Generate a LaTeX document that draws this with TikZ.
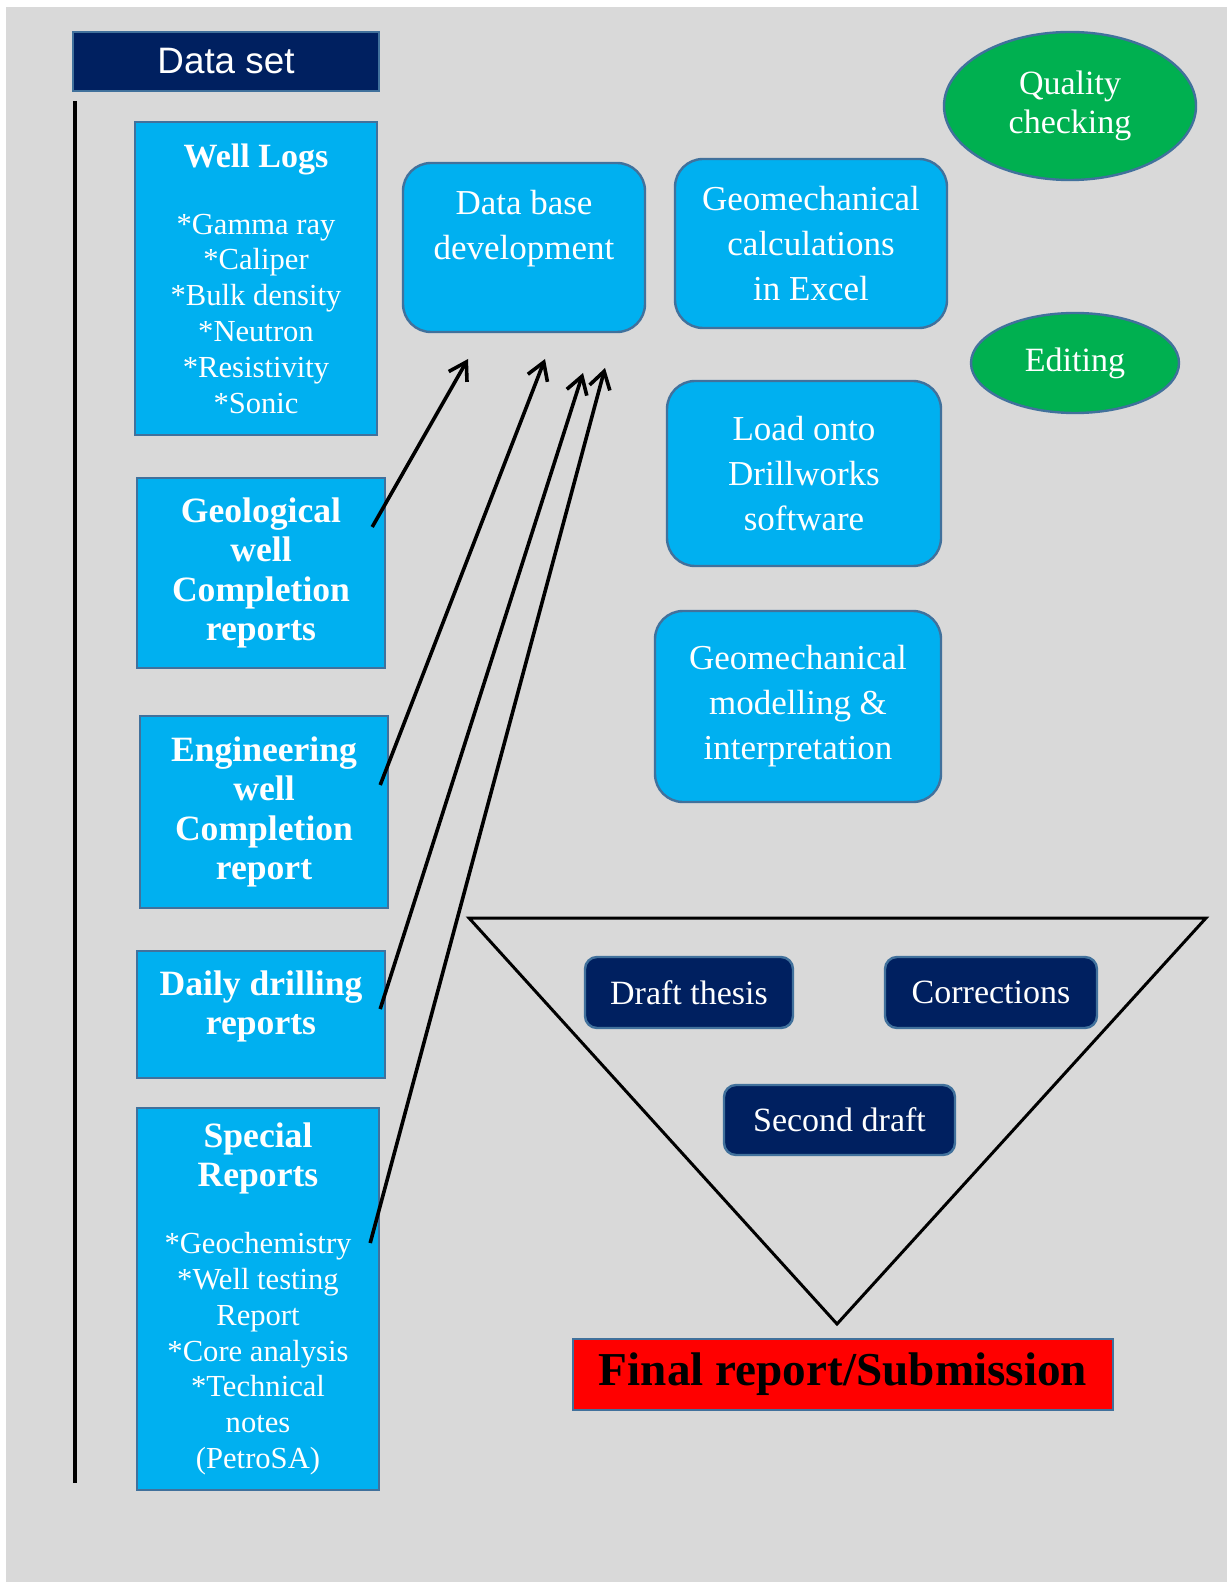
\documentclass[tikz,border=0pt]{standalone}
\usepackage{fontspec}
\setmainfont{Liberation Serif}
\newfontfamily\arialfont{Liberation Sans}
\usetikzlibrary{shapes.geometric,arrows.meta}

\definecolor{panel}{HTML}{D9D9D9}
\definecolor{skyblue}{HTML}{00B0F0}
\definecolor{navy}{HTML}{002060}
\definecolor{leaf}{HTML}{00B050}
\definecolor{rim}{HTML}{41719C}

\begin{document}
\begin{tikzpicture}[x=0.5pt, y=-0.5pt,
		>={Straight Barb[length=8.5pt,width=10.5pt]},
		srcbox/.style={draw=rim, line width=1.2pt, fill=skyblue, text=white, align=center, inner sep=0pt, font=\fontsize{17.8}{19.7}\selectfont\bfseries},
		stepbox/.style={draw=rim, line width=1.2pt, fill=skyblue, rounded corners=14pt, text=white, align=center, inner sep=0pt, font=\fontsize{17.5}{22.5}\selectfont},
		darkbox/.style={draw=rim, line width=1.2pt, fill=navy, rounded corners=6pt, text=white, inner sep=0pt, minimum height=35.5pt, font=\fontsize{17}{20}\selectfont},
		checkbox/.style={ellipse, draw=rim, line width=1.2pt, fill=leaf, text=white, align=center, inner sep=0pt, font=\fontsize{17}{19.7}\selectfont},
		flow/.style={->, line width=1.8pt}]

		\useasboundingbox (0,0) rectangle (1227,1582);
		\fill[panel] (6,7) rectangle (1227,1582);

		\node[draw=rim, line width=1.2pt, fill=navy, text=white, inner sep=0pt, minimum width=153pt, minimum height=29.5pt, font=\arialfont\fontsize{18.4}{22}\selectfont] (dataset) at (226,61.5) {\raisebox{-2pt}{Data set}};
		\draw[line width=2pt] (75,101) -- (75,1483);

		% data sources
		\node[srcbox, minimum width=121pt, minimum height=156.5pt, font=\fontsize{15.3}{17.9}\selectfont] (logs) at (256,278.5)
			{{\bfseries\fontsize{17}{17.9}\selectfont Well Logs}\\[15.5pt] *Gamma ray\\*Caliper\\*Bulk density\\*Neutron\\*Resistivity\\*Sonic};
		\node[srcbox, minimum width=124pt, minimum height=95pt] (geo) at (261,573) {Geological\\well\\Completion\\reports};
		\node[srcbox, minimum width=124pt, minimum height=96pt] (eng) at (264,812) {Engineering\\well\\Completion\\report};
		\node[srcbox, minimum width=124pt, minimum height=63.5pt] (daily) at (261,1014.5) {Daily drilling\\reports\\[-8pt]~};
		\node[srcbox, minimum width=121pt, minimum height=191pt, font=\fontsize{15.3}{17.9}\selectfont] (special) at (258,1299)
			{{\bfseries\fontsize{17.8}{17.9}\selectfont Special}\\[1.6pt]{\bfseries\fontsize{17.8}{17.9}\selectfont Reports}\\[15.5pt]
			*Geochemistry\\*Well testing\\Report\\*Core analysis\\*Technical\\notes\\(PetroSA)};

		% processing steps
		\node[stepbox, minimum width=121pt, minimum height=84.5pt] (dbase) at (524,247.5) {Data base\\development\\~};
		\node[stepbox, minimum width=136pt, minimum height=84.5pt] (calc) at (811,243.5) {Geomechanical\\calculations\\in Excel};
		\node[stepbox, minimum width=137pt, minimum height=92.5pt] (load) at (804,473.5) {Load onto\\Drillworks\\software};
		\node[stepbox, minimum width=143pt, minimum height=95.5pt] (model) at (798,706.5) {Geomechanical\\modelling \&\\interpretation};

		\node[checkbox, minimum width=126pt, minimum height=74pt] (quality) at (1070,106) {Quality\\checking};
		\node[checkbox, minimum width=104pt, minimum height=50pt] (editing) at (1075,363) {Editing};

		% arrows into the data base
		\coordinate (tipA) at (468,359);
		\coordinate (tipB) at (545,359);
		\coordinate (tipC) at (583,373);
		\coordinate (tipD) at (605,368);
		\draw[flow] ([shift={(-14,-46)}]geo.east) -- (tipA);
		\draw[flow] ([shift={(-9,-27)}]eng.east) -- (tipB);
		\draw[flow] ([shift={(-6,-5.5)}]daily.east) -- (tipC);
		\draw[flow] ([shift={(-10,-56)}]special.east) -- (tipD);

		% writing funnel
		\draw[line width=1.5pt] (469,918) -- (1206,918) -- (837,1324) -- cycle;
		\node[darkbox, minimum width=104pt] (draft) at (689,992.5) {Draft thesis};
		\node[darkbox, minimum width=106pt] (corr) at (991,992.5) {Corrections};
		\node[darkbox, minimum width=115.5pt, minimum height=35pt] (second) at (839.5,1120) {Second draft};

		\node[draw=rim, line width=1.2pt, fill=red, inner sep=0pt, minimum width=270pt, minimum height=35.5pt, font=\fontsize{23.6}{28}\selectfont\bfseries] (final) at (843,1374.5) {Final report/Submission};

	\end{tikzpicture}
\end{document}
